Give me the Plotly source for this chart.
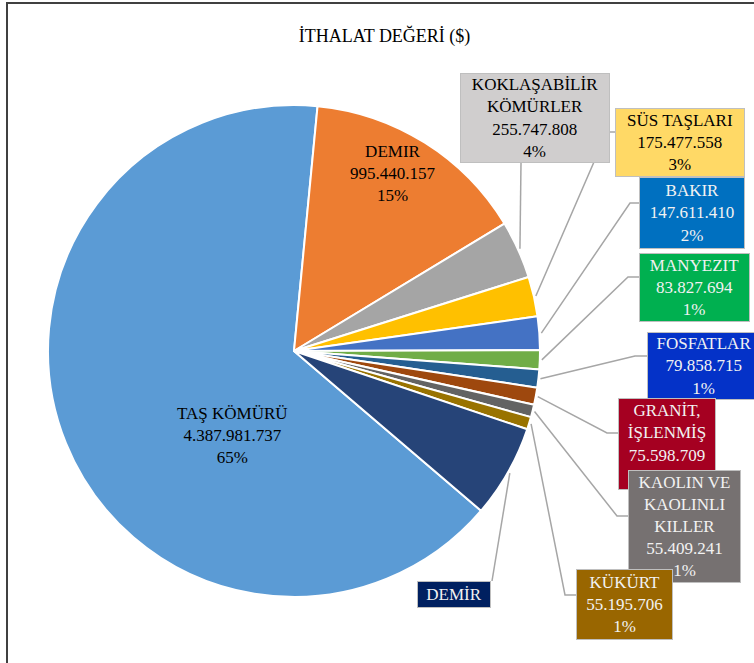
import math
import plotly.graph_objects as go

# slice data (Excel order, first slice = TAŞ KÖMÜRÜ)
labels = ["TAŞ KÖMÜRÜ", "DEMIR", "KOKLAŞABİLİR KÖMÜRLER", "SÜS TAŞLARI", "BAKIR",
          "MANYEZIT", "FOSFATLAR", "GRANİT, İŞLENMİŞ", "KAOLIN VE KAOLINLI KILLER",
          "KÜKÜRT", "DEMİR"]
values = [4387981737, 995440157, 255747808, 175477558, 147611410,
          83827694, 79858715, 75598709, 55409241, 55195706, 410000000]
name_text = ["TAŞ KÖMÜRÜ", "DEMIR", "KOKLAŞABİLİR<br>KÖMÜRLER", "SÜS TAŞLARI", "BAKIR",
             "MANYEZIT", "FOSFATLAR", "GRANİT,<br>İŞLENMİŞ", "KAOLIN VE<br>KAOLINLI<br>KILLER",
             "KÜKÜRT", "DEMİR"]
show_values = [True] * 10 + [False]

slice_colors = ["#5B9BD5", "#ED7D31", "#A5A5A5", "#FFC000", "#4472C4", "#70AD47",
                "#255E91", "#9E480E", "#636363", "#997300", "#264478"]
box_colors = [None, None, "#D0CECE", "#FFD966", "#0070C0", "#00B050",
              "#0432C8", "#A50021", "#767171", "#996600", "#002060"]
text_colors = ["#000000", "#000000", "#000000", "#000000", "#F2F2F2", "#F2F2F2",
               "#F2F2F2", "#F2F2F2", "#F2F2F2", "#F2F2F2", "#F2F2F2"]

W, H = 754, 663
CX, CY, R = 294, 351, 246
START = 130.5
SERIF = "Liberation Serif, Times New Roman, serif"


def px(x):
    return x / W


def py(y):
    return 1 - y / H


def fmt(v):
    return f"{v:,}".replace(",", ".")


total = sum(values)
pcts = [f"{round(v / total * 100)}%" for v in values]

# label placement (pixels): box center, box size, elbow, attach point
place = {
    0: dict(c=(232, 435)),
    1: dict(c=(393, 174)),
    2: dict(c=(535, 118), s=(150, 90), elbow=(521, 163), att=(521, 163)),
    3: dict(c=(680, 142), s=(130, 69), elbow=(607, 132), att=(615, 132)),
    4: dict(c=(692, 213), s=(106, 72), elbow=(630, 203), att=(639, 203)),
    5: dict(c=(694, 287), s=(111, 69), elbow=(628, 277), att=(639, 277)),
    6: dict(c=(704, 366), s=(114, 68), elbow=(635, 356), att=(647, 356)),
    7: dict(c=(667, 444), s=(98, 92), elbow=(607, 433), att=(618, 433)),
    8: dict(c=(684, 526), s=(113, 113), elbow=(617, 516), att=(628, 516)),
    9: dict(c=(624, 604), s=(97, 71), elbow=(565, 595), att=(576, 595)),
    10: dict(c=(454, 594), s=(74, 27), elbow=(492, 581), att=(492, 581)),
}

fig = go.Figure(go.Pie(
    labels=labels, values=values, sort=False, direction="clockwise",
    rotation=START, textinfo="none", showlegend=False,
    marker=dict(colors=slice_colors, line=dict(color="white", width=2)),
    domain=dict(x=[px(CX - R), px(CX + R)], y=[py(CY + R), py(CY - R)]),
))

# mid angle of each slice (clockwise from 12 o'clock)
mids = []
a = START
for v in values:
    span = v / total * 360
    mids.append(a + span / 2)
    a += span

shapes = []
annotations = []
for i in range(len(values)):
    p = place[i]
    txt = name_text[i]
    if show_values[i]:
        txt += "<br>" + fmt(values[i]) + "<br>" + pcts[i]
    font = dict(family=SERIF, size=17, color=text_colors[i])
    if "s" not in p:
        annotations.append(dict(x=px(p["c"][0]), y=py(p["c"][1]), xref="paper", yref="paper",
                                text=txt, showarrow=False, font=font,
                                xanchor="center", yanchor="middle"))
        continue
    ang = math.radians(mids[i])
    ex = CX + (R + 2) * math.sin(ang)
    ey = CY - (R + 2) * math.cos(ang)
    (bx, by), (ax, ay) = p["elbow"], p["att"]
    shapes.append(dict(type="path", xref="paper", yref="paper",
                       path=f"M {px(ex)},{py(ey)} L {px(bx)},{py(by)} L {px(ax)},{py(ay)}",
                       line=dict(color="#A6A6A6", width=1.5)))
    w, h = p["s"]
    annotations.append(dict(x=px(p["c"][0]), y=py(p["c"][1]), xref="paper", yref="paper",
                            text=txt, showarrow=False, font=font,
                            xanchor="center", yanchor="middle",
                            width=w - 2, height=h - 2, align="center", valign="middle",
                            bgcolor=box_colors[i], bordercolor="#BFBFBF",
                            borderwidth=1, borderpad=0))

# chart frame
shapes.append(dict(type="rect", xref="paper", yref="paper",
                   x0=px(7), x1=1.02, y0=-0.02, y1=py(3),
                   line=dict(color="#404040", width=2)))

fig.update_layout(
    width=W, height=H,
    margin=dict(l=0, r=0, t=0, b=0),
    paper_bgcolor="white",
    title=dict(text="İTHALAT DEĞERİ ($)", x=0.51, y=py(36), xanchor="center", yanchor="middle",
               font=dict(family=SERIF, size=18, color="#000000")),
    shapes=shapes,
    annotations=annotations,
)

fig.write_html("out.html", config={"displayModeBar": False},
               post_script="document.body.style.margin='0';")
